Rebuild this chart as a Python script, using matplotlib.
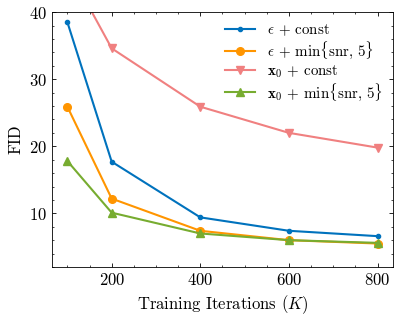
import matplotlib
matplotlib.use("Agg")
import matplotlib.pyplot as plt
from matplotlib.ticker import AutoMinorLocator

plt.rcParams.update({
    "font.family": "serif",
    "font.serif": ["cmr10"],
    "mathtext.fontset": "cm",
    "axes.formatter.use_mathtext": True,
    "font.size": 12,
    "xtick.direction": "in",
    "ytick.direction": "in",
    "xtick.top": True,
    "ytick.right": True,
    "xtick.major.size": 3,
    "ytick.major.size": 3,
    "xtick.minor.size": 1.5,
    "ytick.minor.size": 1.5,
    "axes.linewidth": 0.6,
    "xtick.major.width": 0.6,
    "ytick.major.width": 0.6,
    "xtick.minor.width": 0.5,
    "ytick.minor.width": 0.5,
})

# Training iterations (K)
iters = [100, 200, 400, 600, 800]

eps_const = [38.5, 17.7, 9.4, 7.4, 6.6]
eps_minsnr = [25.9, 12.2, 7.4, 6.0, 5.5]
x0_const = [46.7, 34.6, 25.9, 22.0, 19.8]
x0_minsnr = [17.8, 10.1, 7.0, 6.0, 5.6]

labels = [
    r"$\epsilon$ + const",
    r"$\epsilon$ + $\min\{\mathrm{snr},\, 5\}$",
    r"$\mathbf{x}_0$ + const",
    r"$\mathbf{x}_0$ + $\min\{\mathrm{snr},\, 5\}$",
]

fig, ax = plt.subplots(figsize=(3.99, 3.19), dpi=100)

ax.plot(iters, eps_const, color="#0072BD", marker="o", markersize=3, lw=1.5, label=labels[0])
ax.plot(iters, eps_minsnr, color="#FF9500", marker="o", markersize=5.5, lw=1.5, label=labels[1])
ax.plot(iters, x0_const, color="#F08080", marker="v", markersize=5.5, lw=1.5, label=labels[2])
ax.plot(iters, x0_minsnr, color="#77AC30", marker="^", markersize=5.5, lw=1.5, label=labels[3])

ax.set_ylim(2, 40)
ax.set_xticks([200, 400, 600, 800])
ax.set_yticks([10, 20, 30, 40])
ax.xaxis.set_minor_locator(AutoMinorLocator(4))
ax.yaxis.set_minor_locator(AutoMinorLocator(5))

ax.set_xlabel(r"Training Iterations ($K$)")
ax.set_ylabel("FID")
ax.legend(loc="upper right", frameon=False, fontsize=10.8, handlelength=2.0,
          labelspacing=0.12, borderaxespad=0.3)

fig.subplots_adjust(left=0.13, right=0.985, top=0.962, bottom=0.163)
fig.savefig("out.png", dpi=100)
